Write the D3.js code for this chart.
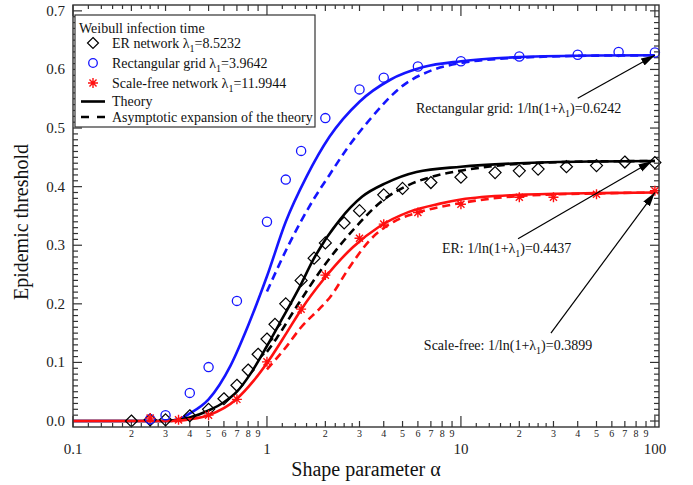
<!DOCTYPE html>
<html>
<head>
<meta charset="utf-8">
<script src="https://cdn.jsdelivr.net/npm/d3@7"></script>
<style>
  body { margin: 0; background: #fff; }
  svg { display: block; font-family: "Liberation Serif", "Times New Roman", serif; }
</style>
</head>
<body>
<div class="chart"></div>
<script>
var width = 693, height = 485;

// 数据点 (alpha, threshold)
var erAlpha = [0.2, 0.25, 0.3, 0.4, 0.5, 0.6, 0.7, 0.8, 0.9, 1, 1.1, 1.25, 1.5, 1.75, 2, 2.5, 3, 4, 5, 7, 10, 15, 20, 25, 35, 50, 70, 100];
var erValue = [0.0, 0.002, 0.002, 0.009, 0.02, 0.038, 0.061, 0.087, 0.114, 0.14, 0.165, 0.2, 0.24, 0.278, 0.304, 0.338, 0.359, 0.386, 0.397, 0.407, 0.416, 0.424, 0.427, 0.43, 0.434, 0.436, 0.442, 0.441];

var gridAlpha = [0.25, 0.3, 0.4, 0.5, 0.7, 1, 1.25, 1.5, 2, 3, 4, 6, 10, 20, 40, 65, 100];
var gridValue = [0.003, 0.01, 0.048, 0.092, 0.205, 0.34, 0.412, 0.461, 0.517, 0.566, 0.586, 0.605, 0.614, 0.622, 0.625, 0.63, 0.629];

var sfAlpha = [0.25, 0.35, 0.5, 0.7, 1, 1.5, 2, 3, 4, 6, 10, 20, 30, 50, 100];
var sfValue = [0.005, 0.002, 0.01, 0.037, 0.101, 0.191, 0.249, 0.312, 0.336, 0.356, 0.37, 0.382, 0.382, 0.387, 0.393];

// 理论曲线
var gridTheoryA = [0.1, 0.3, 0.35, 0.4, 0.5, 0.65, 0.8, 1.0, 1.25, 1.6, 2.1, 3, 4.3, 6.4, 10, 20, 50, 100];
var gridTheoryV = [0, 0, 0.003, 0.013, 0.037, 0.095, 0.163, 0.247, 0.34, 0.417, 0.485, 0.545, 0.582, 0.604, 0.614, 0.621, 0.6238, 0.6242];
var gridAsymA = [1.0, 1.3, 1.73, 2.1, 2.6, 3.4, 5, 7, 10, 20, 50, 100];
var gridAsymV = [0.221, 0.302, 0.377, 0.42, 0.466, 0.515, 0.572, 0.598, 0.611, 0.62, 0.6236, 0.6242];

var erTheoryA = [0.1, 0.3, 0.35, 0.4, 0.5, 0.6, 0.7, 0.82, 1.0, 1.2, 1.47, 1.73, 2.37, 3.1, 4.1, 5.9, 10, 20, 50, 100];
var erTheoryV = [0, 0, 0.002, 0.006, 0.018, 0.032, 0.05, 0.08, 0.128, 0.175, 0.228, 0.275, 0.343, 0.383, 0.406, 0.425, 0.434, 0.44, 0.443, 0.4437];
var erAsymA = [1.0, 1.12, 1.42, 1.95, 2.78, 3.97, 5.4, 7.5, 10.3, 20, 50, 100];
var erAsymV = [0.118, 0.141, 0.195, 0.263, 0.326, 0.377, 0.403, 0.419, 0.428, 0.439, 0.443, 0.4437];

var sfTheoryA = [0.1, 0.33, 0.4, 0.5, 0.7, 0.85, 1.03, 1.26, 1.5, 1.95, 2.78, 3.8, 5.4, 7.8, 10, 20, 50, 100];
var sfTheoryV = [0, 0, 0.003, 0.01, 0.038, 0.068, 0.105, 0.15, 0.19, 0.241, 0.297, 0.332, 0.357, 0.371, 0.378, 0.386, 0.389, 0.3899];
var sfAsymA = [1.0, 1.26, 1.5, 1.87, 2.1, 2.67, 3.4, 4.5, 6.2, 10, 20, 50, 100];
var sfAsymV = [0.088, 0.127, 0.16, 0.192, 0.21, 0.263, 0.309, 0.34, 0.357, 0.372, 0.384, 0.3885, 0.3899];

// 刻度
var yTicks = [0, 0.1, 0.2, 0.3, 0.4, 0.5, 0.6, 0.7];
var xMajor = [0.1, 1, 10, 100];
var xMinorLabels = [2, 3, 4, 5, 6, 7, 8, 9];
var xSubTicks = [1.2, 1.4, 1.6, 1.8, 2.25, 2.5, 2.75];

var legendItems = ["ER network λ", "Rectangular grid λ", "Scale-free network λ"];
var legendValues = ["=8.5232", "=3.9642", "=11.9944"];

var annotations = [
  { pre: "Rectangular grid: 1/ln(1+λ", post: ")=0.6242", at: [5.86, 0.5256], from: [40, 0.551], to: [100, 0.6242] },
  { pre: "ER: 1/ln(1+λ", post: ")=0.4437", at: [7.98, 0.287], from: [19.7, 0.311], to: [97, 0.4437] },
  { pre: "Scale-free: 1/ln(1+λ", post: ")=0.3899", at: [6.44, 0.121], from: [29.1, 0.15], to: [100, 0.3899] }
];

var svg = d3.select(".chart").append("svg").attr("width", width).attr("height", height);

var x = d3.scaleLog().domain([0.1, 105]).range([73, 659]);
var y = d3.scaleLinear().domain([-0.0102, 0.71]).range([427, 5]);

var blue = "#1515ff", red = "#ff1010", axisCol = "#333";

svg.append("defs").append("marker")
  .attr("id", "arrow")
  .attr("viewBox", "0 -5 14 10")
  .attr("markerWidth", 14).attr("markerHeight", 10)
  .attr("refX", 14).attr("refY", 0)
  .attr("orient", "auto")
  .attr("markerUnits", "userSpaceOnUse")
  .append("path").attr("d", "M0,-4L14,0L0,4Z").attr("fill", "#000");

svg.append("clipPath").attr("id", "plotClip").append("rect")
  .attr("x", 73).attr("y", 5).attr("width", 586).attr("height", 422);

// 坐标轴刻度
var ticksG = svg.append("g").attr("stroke", axisCol).attr("stroke-width", 1.2);
var yMinor = d3.range(0, 71).map(d => d / 100);
yMinor.forEach(function (v) {
  var major = Math.round(v * 100) % 10 === 0;
  var len = major ? 9 : 5;
  ticksG.append("line").attr("x1", 73).attr("x2", 73 + len).attr("y1", y(v)).attr("y2", y(v));
  ticksG.append("line").attr("x1", 659).attr("x2", 659 - len).attr("y1", y(v)).attr("y2", y(v));
});
var decades = [0.1, 1, 10];
decades.forEach(function (dec) {
  xMinorLabels.forEach(function (m) {
    var xv = x(m * dec);
    ticksG.append("line").attr("x1", xv).attr("x2", xv).attr("y1", 427).attr("y2", 421);
    ticksG.append("line").attr("x1", xv).attr("x2", xv).attr("y1", 5).attr("y2", 11);
  });
  xSubTicks.forEach(function (m) {
    var xv = x(m * dec);
    ticksG.append("line").attr("x1", xv).attr("x2", xv).attr("y1", 427).attr("y2", 423);
    ticksG.append("line").attr("x1", xv).attr("x2", xv).attr("y1", 5).attr("y2", 9);
  });
});
xMajor.forEach(function (m) {
  var xv = x(m);
  ticksG.append("line").attr("x1", xv).attr("x2", xv).attr("y1", 427).attr("y2", 416);
  ticksG.append("line").attr("x1", xv).attr("x2", xv).attr("y1", 5).attr("y2", 16);
});

// 刻度文字
svg.append("g").selectAll("text").data(yTicks).enter().append("text")
  .attr("x", 65).attr("y", d => y(d) + 5)
  .attr("text-anchor", "end").attr("font-size", 15).attr("fill", "#222")
  .text(d => d.toFixed(1));
svg.append("g").selectAll("text").data(xMajor).enter().append("text")
  .attr("x", d => x(d)).attr("y", 454)
  .attr("text-anchor", "middle").attr("font-size", 15).attr("fill", "#222")
  .text(d => d);
decades.forEach(function (dec) {
  svg.append("g").selectAll("text").data(xMinorLabels).enter().append("text")
    .attr("x", d => x(d * dec)).attr("y", 437)
    .attr("text-anchor", "middle").attr("font-size", 10).attr("fill", "#222")
    .text(d => d);
});

// 轴标题
svg.append("text").attr("x", 366).attr("y", 476).attr("text-anchor", "middle")
  .attr("font-size", 20).attr("fill", "#111").text("Shape parameter α");
svg.append("text").attr("transform", "translate(28,222) rotate(-90)").attr("text-anchor", "middle")
  .attr("font-size", 20).attr("fill", "#111").text("Epidemic threshold");

// 曲线
var line = d3.line().x(d => x(d[0])).y(d => y(d[1])).curve(d3.curveMonotoneX);
var plot = svg.append("g").attr("clip-path", "url(#plotClip)");
var curves = [
  { a: gridTheoryA, v: gridTheoryV, c: blue, dash: null },
  { a: gridAsymA, v: gridAsymV, c: blue, dash: "8,5" },
  { a: erTheoryA, v: erTheoryV, c: "#000", dash: null },
  { a: erAsymA, v: erAsymV, c: "#000", dash: "8,5" },
  { a: sfTheoryA, v: sfTheoryV, c: red, dash: null },
  { a: sfAsymA, v: sfAsymV, c: red, dash: "8,5" }
];
curves.forEach(function (cv) {
  plot.append("path")
    .datum(cv.a.map((a, i) => [a, cv.v[i]]))
    .attr("d", line)
    .attr("fill", "none")
    .attr("stroke", cv.c)
    .attr("stroke-width", 2.6)
    .attr("stroke-dasharray", cv.dash);
});

// 标记
function diamond(g, cx, cy, s) {
  g.append("path").attr("d", `M${cx},${cy - s}L${cx + s},${cy}L${cx},${cy + s}L${cx - s},${cy}Z`)
    .attr("fill", "none").attr("stroke", "#000").attr("stroke-width", 1.2);
}
function star(g, cx, cy, s) {
  var p = "";
  [0, 45, 90, 135].forEach(function (deg) {
    var r = deg * Math.PI / 180;
    p += `M${cx - s * Math.cos(r)},${cy - s * Math.sin(r)}L${cx + s * Math.cos(r)},${cy + s * Math.sin(r)}`;
  });
  g.append("path").attr("d", p).attr("stroke", red).attr("stroke-width", 1.4).attr("fill", "none");
}
var marks = svg.append("g");
erAlpha.forEach((a, i) => diamond(marks, x(a), y(erValue[i]), 6));
marks.selectAll("circle").data(gridAlpha).enter().append("circle")
  .attr("cx", d => x(d)).attr("cy", (d, i) => y(gridValue[i])).attr("r", 4.6)
  .attr("fill", "none").attr("stroke", blue).attr("stroke-width", 1.3);
sfAlpha.forEach((a, i) => star(marks, x(a), y(sfValue[i]), 5));

// 外框
svg.append("rect").attr("x", 73).attr("y", 5).attr("width", 586).attr("height", 422)
  .attr("fill", "none").attr("stroke", axisCol).attr("stroke-width", 1.4);

// 注释
var ann = svg.append("g");
annotations.forEach(function (an) {
  ann.append("line")
    .attr("x1", x(an.from[0])).attr("y1", y(an.from[1]))
    .attr("x2", x(an.to[0])).attr("y2", y(an.to[1]))
    .attr("stroke", "#000").attr("stroke-width", 1.2)
    .attr("marker-end", "url(#arrow)");
  var t = ann.append("text").attr("x", x(an.at[0])).attr("y", y(an.at[1]))
    .attr("font-size", 14).attr("fill", "#111");
  t.append("tspan").text(an.pre);
  t.append("tspan").attr("dy", 4).attr("font-size", 10).text("1");
  t.append("tspan").attr("dy", -4).text(an.post);
});

// 图例
var lg = svg.append("g");
lg.append("rect").attr("x", 75).attr("y", 15).attr("width", 240).attr("height", 112)
  .attr("fill", "#fff").attr("stroke", axisCol).attr("stroke-width", 1.2);
lg.append("text").attr("x", 79).attr("y", 33).attr("font-size", 14).attr("fill", "#111").text("Weibull infection time");
var rowY = [43, 63, 83];
legendItems.forEach(function (name, i) {
  var t = lg.append("text").attr("x", 112).attr("y", rowY[i] + 5).attr("font-size", 14).attr("fill", "#111");
  t.append("tspan").text(name);
  t.append("tspan").attr("dy", 4).attr("font-size", 10).text("1");
  t.append("tspan").attr("dy", -4).text(legendValues[i]);
});
diamond(lg, 93, rowY[0], 5.5);
lg.append("circle").attr("cx", 93).attr("cy", rowY[1]).attr("r", 4.3)
  .attr("fill", "none").attr("stroke", blue).attr("stroke-width", 1.3);
star(lg, 93, rowY[2], 5);
lg.append("line").attr("x1", 81).attr("x2", 105).attr("y1", 101.5).attr("y2", 101.5)
  .attr("stroke", "#000").attr("stroke-width", 2.6);
lg.append("text").attr("x", 112).attr("y", 106).attr("font-size", 14).attr("fill", "#111").text("Theory");
lg.append("line").attr("x1", 81).attr("x2", 105).attr("y1", 117).attr("y2", 117)
  .attr("stroke", "#000").attr("stroke-width", 2.6).attr("stroke-dasharray", "8,8");
lg.append("text").attr("x", 112).attr("y", 122).attr("font-size", 14).attr("fill", "#111").text("Asymptotic expansion of the theory");
</script>
</body>
</html>
